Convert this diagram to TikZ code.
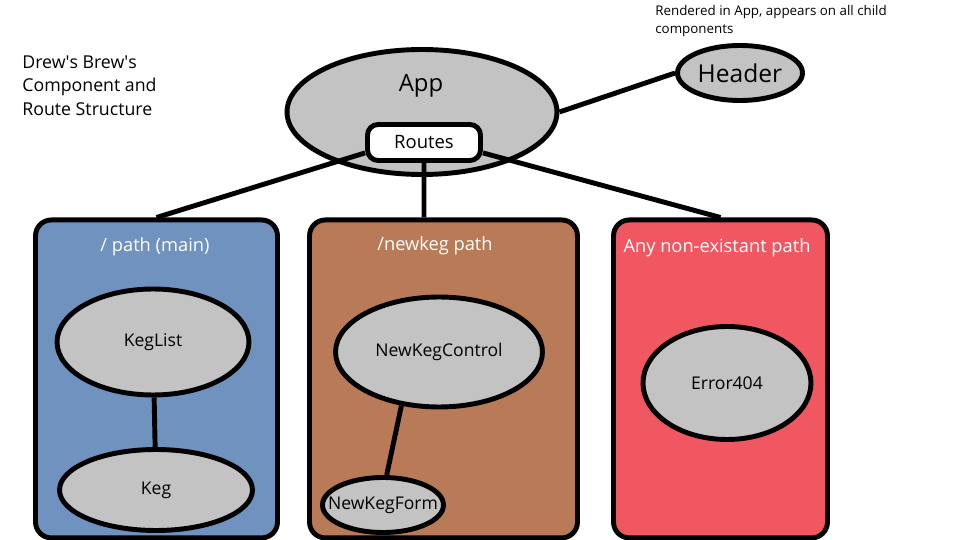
\documentclass[tikz,border=0pt]{standalone}
\usepackage{fontspec}
\setmainfont{Open Sans}
\usetikzlibrary{shapes.geometric}

\definecolor{compgray}{RGB}{195,195,195}
\definecolor{mainblue}{RGB}{112,146,190}
\definecolor{kegbrown}{RGB}{185,122,87}
\definecolor{errred}{RGB}{240,87,97}

\tikzset{
  comp/.style={ellipse, draw, fill=compgray, line width=2.8pt, inner sep=0pt, font=\fontsize{10}{12}\selectfont},
  pathbox/.style={draw, line width=2.8pt, rounded corners=9pt},
  pathtitle/.style={text=white, inner sep=0pt, font=\fontsize{10.4}{12}\selectfont},
  wire/.style={line width=2.8pt},
}

\begin{document}
\begin{tikzpicture}[x=0.02cm, y=-0.02cm]
\useasboundingbox (0,0) rectangle (960,540);

\draw (22,55) node[anchor=north west, align=left, inner sep=0pt, font=\fontsize{10.1}{13.6}\selectfont] (title) {Drew\textquotesingle s Brew\textquotesingle s\\Component and\\Route Structure} ;

\draw (655,5) node[anchor=north west, align=left, inner sep=0pt, font=\fontsize{7.6}{10}\selectfont] (note) {Rendered in App, appears on all child\\components} ;

\draw (422,112) node[comp, minimum width=5.4cm, minimum height=2.5cm] (app) {} ;
\draw (421,86) node[inner sep=0pt, font=\fontsize{13.6}{16}\selectfont] (applabel) {App} ;
\draw (424,142.5) node[draw, fill=white, line width=2.8pt, rounded corners=6pt, minimum width=2.26cm, minimum height=0.72cm, inner sep=0pt, font=\fontsize{10.5}{12}\selectfont] (routes) {Routes} ;

\draw (740,73) node[comp, minimum width=2.5cm, minimum height=1.1cm, font=\fontsize{14}{16}\selectfont] (header) {Header} ;
\draw[wire] (app.east) to (header.west) ;

\draw (156.5,217.5) node[pathbox, fill=mainblue, anchor=north, minimum width=4.84cm, minimum height=6.36cm] (main) {} ;
\draw (443.5,217.5) node[pathbox, fill=kegbrown, anchor=north, minimum width=5.36cm, minimum height=6.36cm] (newkeg) {} ;
\draw (720.5,217.5) node[pathbox, fill=errred, anchor=north, minimum width=4.28cm, minimum height=6.36cm] (error) {} ;

\draw[wire] (routes.190) to (main.north)   (routes.south) to (routes.south |- newkeg.north)   (routes.350) to (error.north) ;

\draw (155,247) node[pathtitle] (maintitle) {/ path (main)} ;
\draw (435,246) node[pathtitle] (newkegtitle) {/newkeg path} ;
\draw (717,248) node[pathtitle] (errortitle) {Any non-existant path} ;

\draw (153,342) node[comp, minimum width=3.84cm, minimum height=2.12cm] (keglist) {KegList} ;
\draw (156,490) node[comp, minimum width=3.86cm, minimum height=1.62cm] (keg) {Keg} ;
\draw[wire] (keglist) to (keg) ;

\draw (439,352) node[comp, minimum width=4.14cm, minimum height=2.2cm] (newkegcontrol) {NewKegControl} ;
\draw (383,505) node[comp, minimum width=2.42cm, minimum height=1.1cm] (newkegform) {\makebox[40pt]{NewKegForm}} ;
\draw[wire] (newkegcontrol.235) to (newkegform.83) ;

\draw (727,383) node[comp, minimum width=3.36cm, minimum height=2.26cm] (error404) {Error404} ;

\end{tikzpicture}
\end{document}
